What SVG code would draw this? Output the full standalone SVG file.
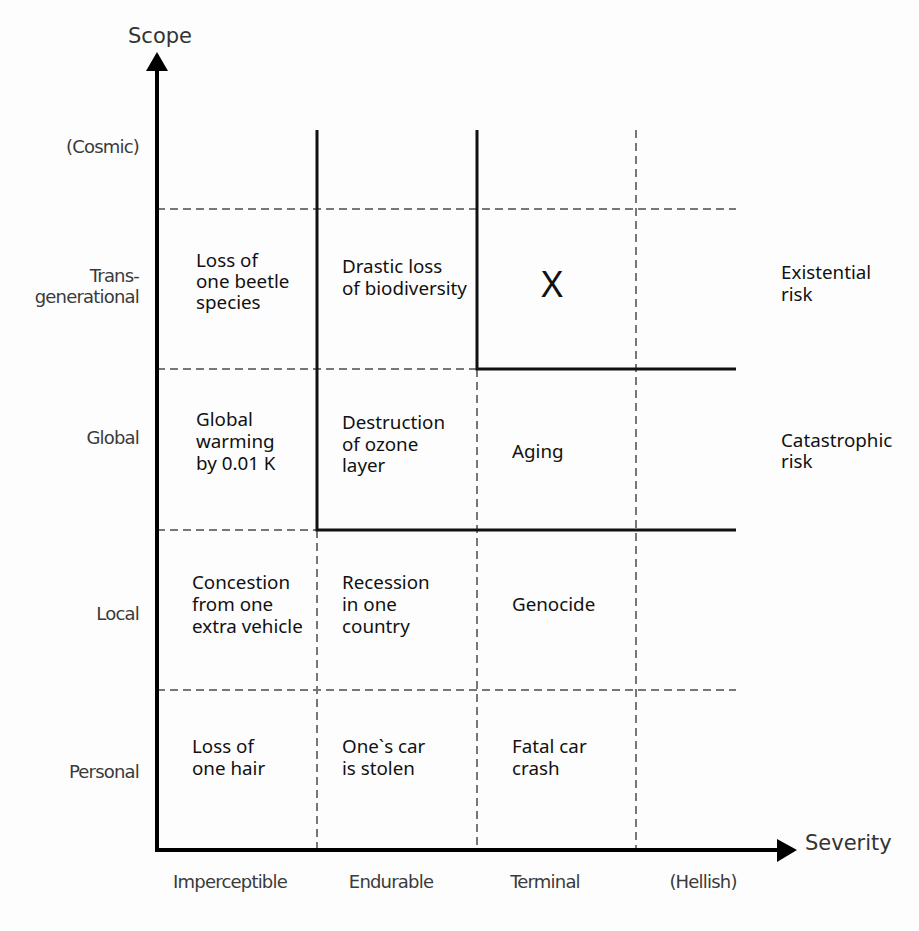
<svg xmlns="http://www.w3.org/2000/svg" width="919" height="931" viewBox="0 0 919 931">
<defs>
<style>
.dash{stroke:#777;stroke-width:2;stroke-dasharray:8 5;fill:none}
.solid{stroke:#111;stroke-width:3;fill:none}
.axis{stroke:#000;stroke-width:4;fill:none}
.ax{font-family:"DejaVu Sans",sans-serif;font-size:18px;fill:#3a3a3a;letter-spacing:-0.8px}
.axr{text-anchor:end}
.axc{text-anchor:middle}
.ttl{font-family:"DejaVu Sans",sans-serif;font-size:21px;fill:#333}
.cell{font-family:"Noto Sans",sans-serif;font-size:18.8px;fill:#111}
</style>
</defs>
<rect width="919" height="931" fill="#fdfdfd"/>
<g id="connectors">
<line class="dash" x1="157" y1="209" x2="736" y2="209"/>
<line class="dash" x1="157" y1="369" x2="477" y2="369"/>
<line class="dash" x1="157" y1="530" x2="317" y2="530"/>
<line class="dash" x1="157" y1="690" x2="736" y2="690"/>
<line class="dash" x1="317" y1="530" x2="317" y2="848"/>
<line class="dash" x1="477" y1="369" x2="477" y2="848"/>
<line class="dash" x1="636" y1="130" x2="636" y2="848"/>
<polyline class="solid" points="317,130 317,530 736,530"/>
<polyline class="solid" points="477,130 477,369 736,369"/>
<line class="axis" x1="157" y1="851" x2="157" y2="68"/>
<polygon points="157,52 146,71 168,71" fill="#000"/>
<line class="axis" x1="155" y1="850" x2="780" y2="850"/>
<polygon points="797,850 777,839 777,862" fill="#000"/>
</g>
<g id="axis-titles">
<text class="ttl" x="160" y="43" text-anchor="middle">Scope</text>
<text class="ttl" x="805" y="850">Severity</text>
</g>
<g id="scope-labels">
<text class="ax axr" x="139" y="153">(Cosmic)</text>
<text class="ax axr" x="139" y="282">Trans-</text>
<text class="ax axr" x="139" y="303">generational</text>
<text class="ax axr" x="139" y="444">Global</text>
<text class="ax axr" x="139" y="620">Local</text>
<text class="ax axr" x="139" y="778">Personal</text>
</g>
<g id="severity-labels">
<text class="ax axc" x="230" y="888">Imperceptible</text>
<text class="ax axc" x="391" y="888">Endurable</text>
<text class="ax axc" x="545" y="888">Terminal</text>
<text class="ax axc" x="703" y="888">(Hellish)</text>
</g>
<g id="risk-labels">
<text class="cell" x="781" y="279">Existential</text>
<text class="cell" x="781" y="301">risk</text>
<text class="cell" x="781" y="447">Catastrophic</text>
<text class="cell" x="781" y="468">risk</text>
</g>
<g id="cell-beetle"><text class="cell" x="196" y="267">Loss of</text><text class="cell" x="196" y="288">one beetle</text><text class="cell" x="196" y="309">species</text></g>
<g id="cell-biodiversity"><text class="cell" x="342" y="273">Drastic loss</text><text class="cell" x="342" y="295">of biodiversity</text></g>
<g id="cell-x"><text x="552" y="297" text-anchor="middle" style="font-family:'Noto Sans',sans-serif;font-size:37px;fill:#111">X</text></g>
<g id="cell-warming"><text class="cell" x="196" y="426">Global</text><text class="cell" x="196" y="448">warming</text><text class="cell" x="196" y="470">by 0.01 K</text></g>
<g id="cell-ozone"><text class="cell" x="342" y="429">Destruction</text><text class="cell" x="342" y="451">of ozone</text><text class="cell" x="342" y="472">layer</text></g>
<g id="cell-aging"><text class="cell" x="512" y="458">Aging</text></g>
<g id="cell-congestion"><text class="cell" x="192" y="589">Concestion</text><text class="cell" x="192" y="611">from one</text><text class="cell" x="192" y="633">extra vehicle</text></g>
<g id="cell-recession"><text class="cell" x="342" y="589">Recession</text><text class="cell" x="342" y="611">in one</text><text class="cell" x="342" y="633">country</text></g>
<g id="cell-genocide"><text class="cell" x="512" y="611">Genocide</text></g>
<g id="cell-hair"><text class="cell" x="192" y="753">Loss of</text><text class="cell" x="192" y="775">one hair</text></g>
<g id="cell-car"><text class="cell" x="342" y="753">One`s car</text><text class="cell" x="342" y="775">is stolen</text></g>
<g id="cell-crash"><text class="cell" x="512" y="753">Fatal car</text><text class="cell" x="512" y="775">crash</text></g>
</svg>
